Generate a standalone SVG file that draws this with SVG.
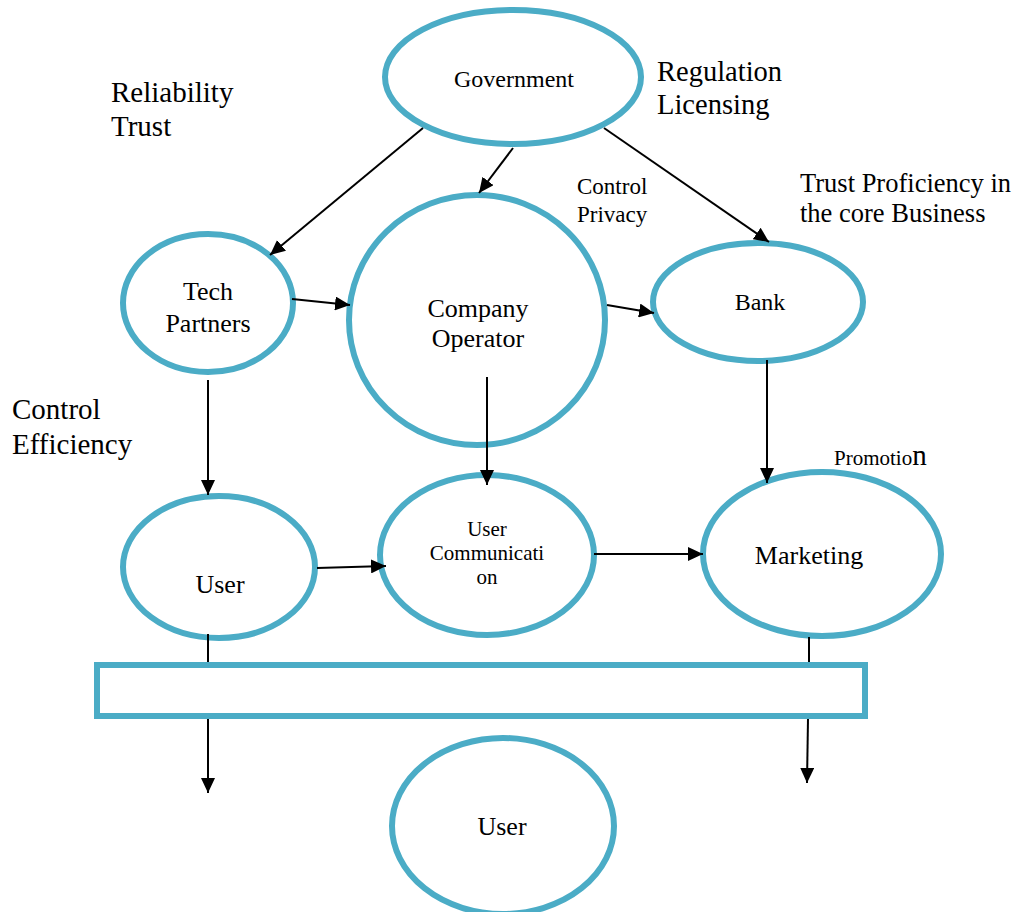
<svg xmlns="http://www.w3.org/2000/svg" width="1015" height="912" viewBox="0 0 1015 912" font-family="'Liberation Serif', 'Times New Roman', serif">
  <style>
    .node { fill: #ffffff; stroke: #4BACC6; stroke-width: 6; }
    .link { fill: none; stroke: #000000; stroke-width: 2; }
    text { font-family: 'Liberation Serif', 'Times New Roman', serif; fill: #000000; }
    .c { text-anchor: middle; }
  </style>
  <defs>
    <marker id="arrow" markerUnits="userSpaceOnUse" markerWidth="16" markerHeight="14" refX="15" refY="7" orient="auto">
      <path d="M0,0 L15,7 L0,14 Z" fill="#000000"/>
    </marker>
  </defs>

  <rect width="1015" height="912" fill="#ffffff"/>

  <!-- free-standing labels -->
  <g id="labels">
    <text x="111" y="102" font-size="29">Reliability</text>
    <text x="111" y="136" font-size="29">Trust</text>
    <text x="657" y="81" font-size="28.5">Regulation</text>
    <text x="657" y="114" font-size="28.5">Licensing</text>
    <text x="577" y="194" font-size="23">Control</text>
    <text x="577" y="222" font-size="23">Privacy</text>
    <text x="800" y="192" font-size="26.5">Trust Proficiency in</text>
    <text x="800" y="222" font-size="26.5">the core Business</text>
    <text x="12" y="419" font-size="29">Control</text>
    <text x="12" y="454" font-size="29">Efficiency</text>
    <text x="834" y="465" font-size="21">Promotio<tspan font-size="29">n</tspan></text>
  </g>

  <g id="government">
    <ellipse class="node" cx="513" cy="77" rx="128" ry="67"/>
    <text class="c" x="514" y="87" font-size="24">Government</text>
  </g>

  <g id="tech-partners">
    <ellipse class="node" cx="208" cy="303" rx="85" ry="69"/>
    <text class="c" x="208" y="300" font-size="26">Tech</text>
    <text class="c" x="208" y="332" font-size="26">Partners</text>
  </g>

  <g id="company-operator">
    <ellipse class="node" cx="477" cy="320" rx="128" ry="125"/>
    <text class="c" x="478" y="317" font-size="26">Company</text>
    <text class="c" x="478" y="347" font-size="26">Operator</text>
  </g>

  <g id="bank">
    <ellipse class="node" cx="758" cy="302" rx="105" ry="59"/>
    <text class="c" x="760" y="310" font-size="24">Bank</text>
  </g>

  <g id="user">
    <ellipse class="node" cx="219" cy="567" rx="96" ry="71"/>
    <text class="c" x="220" y="593" font-size="26">User</text>
  </g>

  <g id="user-communication">
    <ellipse class="node" cx="487" cy="555" rx="107" ry="80"/>
    <text class="c" x="487" y="536" font-size="21">User</text>
    <text class="c" x="487" y="560" font-size="21">Communicati</text>
    <text class="c" x="487" y="584" font-size="21">on</text>
  </g>

  <g id="marketing">
    <ellipse class="node" cx="822" cy="554" rx="119" ry="82"/>
    <text class="c" x="809" y="564" font-size="26">Marketing</text>
  </g>

  <g id="channel-bar">
    <rect class="node" x="97" y="665" width="768" height="51"/>
  </g>

  <g id="end-user">
    <ellipse class="node" cx="503" cy="826" rx="111" ry="88"/>
    <text class="c" x="502" y="835" font-size="26">User</text>
  </g>

  <!-- connectors, drawn over the node outlines -->
  <g id="connectors">
    <line class="link" x1="423" y1="128" x2="270" y2="255" marker-end="url(#arrow)"/>
    <line class="link" x1="513" y1="148" x2="479" y2="193" marker-end="url(#arrow)"/>
    <line class="link" x1="604" y1="128" x2="769" y2="242" marker-end="url(#arrow)"/>
    <line class="link" x1="292" y1="299" x2="350" y2="305" marker-end="url(#arrow)"/>
    <line class="link" x1="607" y1="305" x2="654" y2="313" marker-end="url(#arrow)"/>
    <line class="link" x1="208" y1="380" x2="208" y2="495" marker-end="url(#arrow)"/>
    <line class="link" x1="487" y1="377" x2="487" y2="485" marker-end="url(#arrow)"/>
    <line class="link" x1="767" y1="360" x2="767" y2="483" marker-end="url(#arrow)"/>
    <line class="link" x1="317" y1="568" x2="386" y2="566" marker-end="url(#arrow)"/>
    <line class="link" x1="594" y1="554" x2="703" y2="554" marker-end="url(#arrow)"/>
    <line class="link" x1="208" y1="634" x2="208" y2="662"/>
    <line class="link" x1="208" y1="719" x2="208" y2="793" marker-end="url(#arrow)"/>
    <line class="link" x1="809" y1="637" x2="809" y2="662"/>
    <line class="link" x1="808" y1="719" x2="807" y2="783" marker-end="url(#arrow)"/>
  </g>
</svg>
